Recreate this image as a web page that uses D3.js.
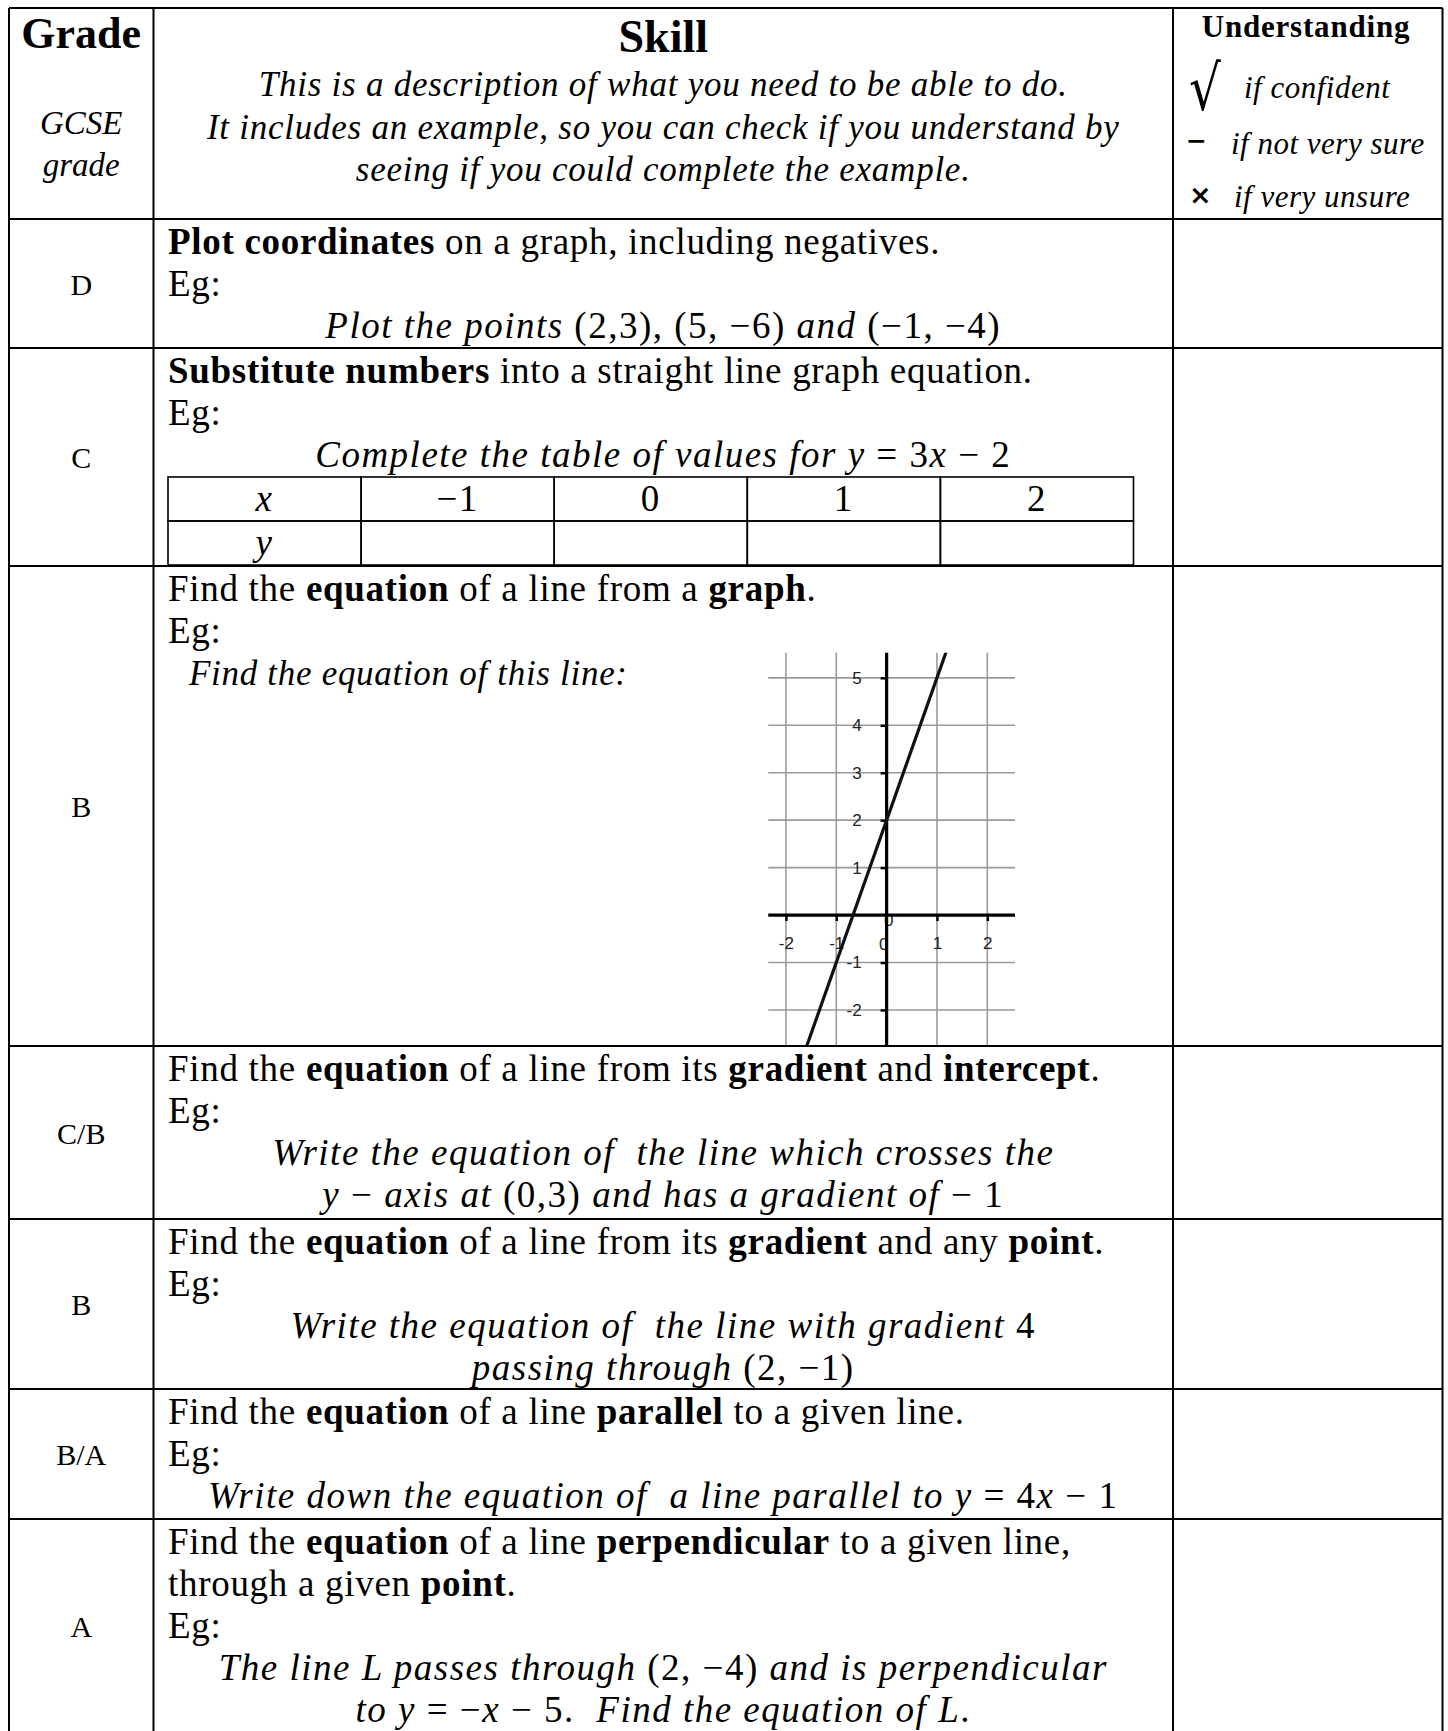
<!DOCTYPE html>
<html>
<head>
<meta charset="utf-8">
<script src="https://cdn.jsdelivr.net/npm/d3@7"></script>
<style>
  body { margin: 0; background: #fff; }
  svg { display: block; }
  text { white-space: pre; }
</style>
</head>
<body>
<div id="sheet"></div>
<script>
/* ── content ── */
var grades = ['D', 'C', 'B', 'C/B', 'B', 'B/A', 'A'];

var skillLines = [
  ['**Plot coordinates** on a graph, including negatives.', 'Eg:'],
  ['**Substitute numbers** into a straight line graph equation.', 'Eg:'],
  ['Find the **equation** of a line from a **graph**.', 'Eg:'],
  ['Find the **equation** of a line from its **gradient** and **intercept**.', 'Eg:'],
  ['Find the **equation** of a line from its **gradient** and any **point**.', 'Eg:'],
  ['Find the **equation** of a line **parallel** to a given line.', 'Eg:'],
  ['Find the **equation** of a line **perpendicular** to a given line,', 'through a given **point**.', 'Eg:']
];

var exampleLines = [
  ['Plot the points (2,3), (5, −6) and (−1, −4)'],
  ['Complete the table of values for y = 3x − 2'],
  [],
  ['Write the equation of  the line which crosses the', 'y − axis at (0,3) and has a gradient of − 1'],
  ['Write the equation of  the line with gradient 4', 'passing through (2, −1)'],
  ['Write down the equation of  a line parallel to y = 4x − 1'],
  ['The line L passes through (2, −4) and is perpendicular', 'to y = −x − 5.  Find the equation of L.']
];

var graphPrompt = 'Find the equation of this line:';

var headerTitles = ['Grade', 'Skill', 'Understanding'];
var headerNote = ['GCSE', 'grade'];
var headerDesc = [
  'This is a description of what you need to be able to do.',
  'It includes an example, so you can check if you understand by',
  'seeing if you could complete the example.'
];
var legendSymbols = ['√', '−', '×'];
var legendLabels = ['if confident', 'if not very sure', 'if very unsure'];

var tableRowLabels = ['x', 'y'];
var tableX = [-1, 0, 1, 2];

var graphXTicks = [-2, -1, 0, 1, 2];
var graphYTicks = [-2, -1, 1, 2, 3, 4, 5];
var graphXDomain = [-2.35, 2.55];
var graphYDomain = [-2.76, 5.53];
var graphLine = [{ x: -1.6, y: -2.8 }, { x: 1.2, y: 5.6 }];

/* ── layout ── */
var W = 1448, H = 1731;
var SERIF = "'Liberation Serif', 'Times New Roman', serif";
var SANS = "'Liberation Sans', Arial, sans-serif";
var DJS = "'DejaVu Sans', sans-serif";
var colX = [9, 153.5, 1173, 1442.5];
var rowY = [8, 219, 348, 566, 1046, 1219, 1389, 1519, 1733];
var skillCx = (colX[1] + colX[2]) / 2;
var gradeCx = (colX[0] + colX[1]) / 2;
var textLeft = 168;
var lineGap = 42;

var svg = d3.select('#sheet').append('svg')
  .attr('width', W).attr('height', H)
  .attr('viewBox', '0 0 ' + W + ' ' + H);

/* rich text: **bold** runs inside plain text */
function bodyText(g, x, y, str, size, anchor) {
  var t = g.append('text').attr('x', x).attr('y', y)
    .attr('text-anchor', anchor || 'start')
    .style('font-family', SERIF).style('font-size', size + 'px')
    .style('letter-spacing', '0.7px').attr('fill', '#000');
  str.split('**').forEach(function (part, i) {
    if (!part) return;
    t.append('tspan').text(part).style('font-weight', i % 2 ? 'bold' : 'normal');
  });
  return t;
}

/* math text: letters italic, digits and signs upright */
function mathText(g, x, y, str, size, anchor) {
  var t = g.append('text').attr('x', x).attr('y', y)
    .attr('text-anchor', anchor || 'middle')
    .style('font-family', SERIF).style('font-size', size + 'px')
    .style('letter-spacing', '1.5px').attr('fill', '#000');
  (str.match(/[A-Za-z ]+|[^A-Za-z ]+/g) || []).forEach(function (run) {
    t.append('tspan').text(run)
      .style('font-style', /[A-Za-z]/.test(run) ? 'italic' : 'normal');
  });
  return t;
}

function plainText(g, x, y, str, size, opts) {
  opts = opts || {};
  return g.append('text').attr('x', x).attr('y', y)
    .attr('text-anchor', opts.anchor || 'middle')
    .style('font-family', opts.family || SERIF)
    .style('font-size', size + 'px')
    .style('font-weight', opts.weight || 'normal')
    .style('font-style', opts.style || 'normal')
    .style('letter-spacing', (opts.spacing || 0) + 'px')
    .attr('fill', opts.fill || '#000')
    .text(str);
}

/* ── header ── */
var head = svg.append('g');
plainText(head, gradeCx, 48, headerTitles[0], 44, { weight: 'bold' });
plainText(head, skillCx, 52, headerTitles[1], 46, { weight: 'bold' });
plainText(head, 1306, 37, headerTitles[2], 31, { weight: 'bold', spacing: 0.8 });
headerNote.forEach(function (s, i) {
  plainText(head, gradeCx, 134 + i * 42, s, 33, { style: 'italic' });
});
headerDesc.forEach(function (s, i) {
  plainText(head, skillCx, 96 + i * 42.5, s, 35, { style: 'italic', spacing: 0.75 });
});
var legendTextX = [1244, 1231, 1234];
var legendY = [98, 154, 207];
legendLabels.forEach(function (s, i) {
  plainText(head, legendTextX[i], legendY[i], s, 31, { style: 'italic', anchor: 'start', spacing: 0.5 });
});
plainText(head, 0, 0, legendSymbols[0], 50, { anchor: 'start', family: DJS })
  .attr('transform', 'translate(1189,110) scale(1,1.25)');
plainText(head, 1186, 149, legendSymbols[1], 25, { anchor: 'start', weight: 'bold', family: DJS });
plainText(head, 1189, 204, legendSymbols[2], 27, { anchor: 'start', weight: 'bold', family: DJS });

/* ── rows ── */
grades.forEach(function (gr, i) {
  var top = rowY[i + 1], bottom = rowY[i + 2];
  var g = svg.append('g');
  plainText(g, gradeCx, (top + bottom) / 2 + 11, gr, 30);

  var lines = skillLines[i];
  lines.forEach(function (s, li) {
    bodyText(g, textLeft, top + 35 + li * lineGap, s, 37);
  });
  exampleLines[i].forEach(function (s, li) {
    mathText(g, skillCx, top + 35 + (lines.length + li) * lineGap, s, 37);
  });
});

/* ── table of values (row C) ── */
(function drawValueTable() {
  var tx = d3.scaleBand().domain(d3.range(tableX.length + 1)).range([168, 1133.5]);
  var ty = d3.scaleBand().domain([0, 1]).range([477, 565]);
  var g = svg.append('g');
  var cells = [];
  tableRowLabels.forEach(function (lab, r) {
    cells.push({ r: r, c: 0, t: lab });
    tableX.forEach(function (v, c) {
      cells.push({ r: r, c: c + 1, t: r === 0 ? String(v).replace('-', '−') : '' });
    });
  });
  g.selectAll('rect').data(cells).enter().append('rect')
    .attr('x', function (d) { return tx(d.c); })
    .attr('y', function (d) { return ty(d.r); })
    .attr('width', tx.bandwidth()).attr('height', ty.bandwidth())
    .attr('fill', 'none').attr('stroke', '#000').attr('stroke-width', 1.6);
  cells.forEach(function (d) {
    if (!d.t) return;
    mathText(g, tx(d.c) + tx.bandwidth() / 2, ty(d.r) + ty.bandwidth() - 10, d.t, 37);
  });
}());

/* ── graph (row B) ── */
(function drawGraph() {
  var top = rowY[3];
  var g = svg.append('g');
  plainText(g, 189, top + 35 + 2 * lineGap, graphPrompt, 35, { style: 'italic', anchor: 'start', spacing: 0.7 });

  var x = d3.scaleLinear().domain(graphXDomain).range([768.3, 1015]);
  var y = d3.scaleLinear().domain(graphYDomain).range([1046, 652.7]);

  g.append('clipPath').attr('id', 'gclip').append('rect')
    .attr('x', x.range()[0]).attr('y', y.range()[1])
    .attr('width', x.range()[1] - x.range()[0]).attr('height', y.range()[0] - y.range()[1]);

  var grid = g.append('g').attr('stroke', '#9a9a9a').attr('stroke-width', 1.6);
  grid.selectAll('.vx').data(graphXTicks).enter().append('line')
    .attr('x1', x).attr('x2', x)
    .attr('y1', y.range()[1]).attr('y2', y.range()[0]);
  grid.selectAll('.hy').data(graphYTicks.concat([0])).enter().append('line')
    .attr('x1', x.range()[0]).attr('x2', x.range()[1])
    .attr('y1', y).attr('y2', y);

  var fmt = function (d) { return String(d); };
  var yAxis = g.append('g').attr('transform', 'translate(' + x(0) + ',0)')
    .call(d3.axisLeft(y).tickValues(graphYTicks).tickFormat(fmt).tickSize(6).tickPadding(19));
  var xAxis = g.append('g').attr('transform', 'translate(0,' + y(0) + ')')
    .call(d3.axisBottom(x).tickValues(graphXTicks.filter(function (v) { return v !== 0; }))
      .tickFormat(fmt).tickSize(6).tickPadding(16));
  [xAxis, yAxis].forEach(function (a) {
    a.select('.domain').remove();
    a.selectAll('.tick line').attr('stroke', '#000').attr('stroke-width', 2.5);
    a.selectAll('.tick text').style('font-family', SANS).style('font-size', '17px')
      .attr('fill', '#222');
  });
  plainText(g, x(0) - 3, y(0) + 35, '0', 17, { family: SANS, fill: '#222' });
  plainText(g, x(0) + 2, y(0) + 11, '0', 17, { family: SANS, fill: '#222' });

  g.append('line').attr('x1', x.range()[0]).attr('x2', x.range()[1])
    .attr('y1', y(0)).attr('y2', y(0)).attr('stroke', '#000').attr('stroke-width', 3.2);
  g.append('line').attr('x1', x(0)).attr('x2', x(0))
    .attr('y1', y.range()[1]).attr('y2', y.range()[0]).attr('stroke', '#000').attr('stroke-width', 3.2);

  g.append('path').datum(graphLine)
    .attr('clip-path', 'url(#gclip)')
    .attr('d', d3.line().x(function (d) { return x(d.x); }).y(function (d) { return y(d.y); }))
    .attr('stroke', '#111').attr('stroke-width', 3.2).attr('fill', 'none');
}());

/* ── cell borders ── */
var rules = svg.append('g').attr('stroke', '#000').attr('stroke-width', 2);
rules.selectAll('.h').data(rowY.slice(0, -1)).enter().append('line')
  .attr('x1', colX[0]).attr('x2', colX[3])
  .attr('y1', function (d) { return d; }).attr('y2', function (d) { return d; });
rules.selectAll('.v').data(colX).enter().append('line')
  .attr('x1', function (d) { return d; }).attr('x2', function (d) { return d; })
  .attr('y1', rowY[0]).attr('y2', H + 5);
</script>
</body>
</html>
